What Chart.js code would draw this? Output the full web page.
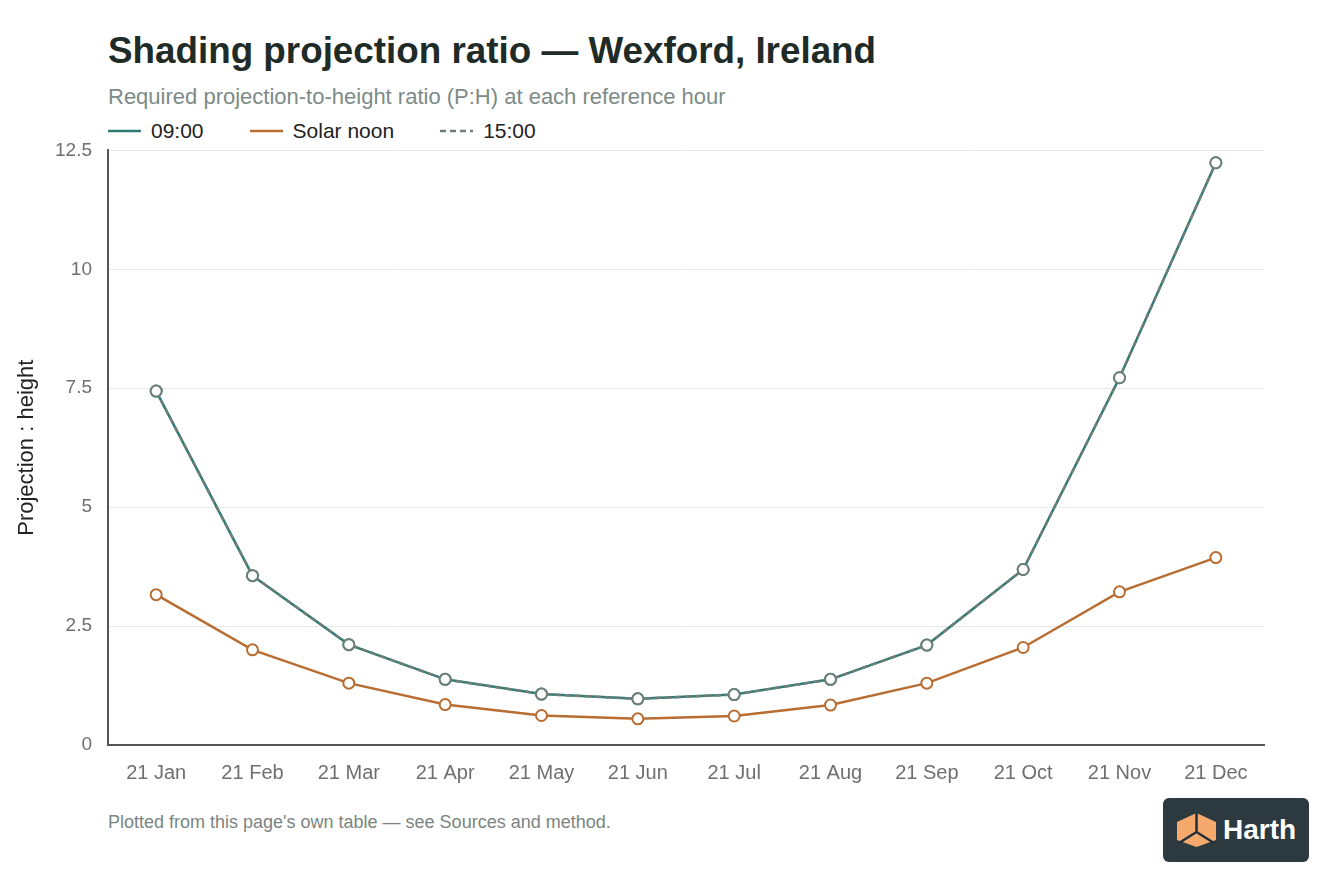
<!DOCTYPE html>
<html>
<head>
<meta charset="utf-8">
<script src="https://cdn.jsdelivr.net/npm/chart.js@4.4.1/dist/chart.umd.min.js"></script>
<style>
  html, body { margin: 0; padding: 0; background: #fff; }
  body { width: 1344px; height: 896px; position: relative; overflow: hidden; font-family: "Liberation Sans", Arial, sans-serif; }
  #title { position: absolute; left: 108px; top: 32px; font-size: 36.8px; line-height: 37px; font-weight: bold; color: #1f2b27; white-space: nowrap; }
  #subtitle { position: absolute; left: 108px; top: 86px; font-size: 22px; line-height: 22px; color: #7d8b86; white-space: nowrap; }
  #legend { position: absolute; left: 108px; top: 119px; height: 24px; display: flex; align-items: center; font-size: 21px; color: #222; }
  .item { display: flex; align-items: center; margin-right: 46px; }
  .item svg { margin-right: 10px; }
  #wrap { position: absolute; left: 0; top: 123px; width: 1344px; height: 682px; }
  #footer { position: absolute; left: 108px; top: 813px; font-size: 18px; line-height: 18px; color: #7a8580; white-space: nowrap; }
  #logo { position: absolute; left: 1163px; top: 798px; width: 146px; height: 64px; background: #2c3a40; border-radius: 6px; display: flex; align-items: center; }
  #logo svg { margin-left: 13px; }
  #logo span { margin-left: 6px; color: #fff; font-weight: bold; font-size: 28px; font-family: "Liberation Sans", Arial, sans-serif; }
</style>
</head>
<body>
<div id="title">Shading projection ratio — Wexford, Ireland</div>
<div id="subtitle">Required projection-to-height ratio (P:H) at each reference hour</div>
<div id="legend"></div>
<div id="wrap"><canvas id="myChart"></canvas></div>
<div id="footer">Plotted from this page's own table — see Sources and method.</div>
<div id="logo">
  <svg width="41" height="36" viewBox="0 0 41 36">
    <polygon points="20.5,1 40,10 40,28 20.5,35 1,28 1,10" fill="#f5a96d"/>
    <path d="M20.5 1 L20.5 20 M20.5 20 L3 31 M20.5 20 L38 31" stroke="#22303a" stroke-width="2.5" fill="none"/>
  </svg>
  <span>Harth</span>
</div>
<script>
const months = ['21 Jan', '21 Feb', '21 Mar', '21 Apr', '21 May', '21 Jun', '21 Jul', '21 Aug', '21 Sep', '21 Oct', '21 Nov', '21 Dec'];
const ratio0900 = [7.44, 3.56, 2.11, 1.38, 1.07, 0.97, 1.06, 1.38, 2.10, 3.69, 7.72, 12.24];
const ratioNoon = [3.16, 2.00, 1.30, 0.85, 0.62, 0.55, 0.61, 0.84, 1.30, 2.05, 3.22, 3.94];
const ratio1500 = [7.44, 3.56, 2.11, 1.38, 1.07, 0.97, 1.06, 1.38, 2.10, 3.69, 7.72, 12.24];
const yTicks = [0, 2.5, 5, 7.5, 10, 12.5];

const tickFont = { family: '"Liberation Sans", Arial, sans-serif', size: 20 };

// order: 15:00 is drawn on top, like the original
const datasets = [
    { label: '09:00', data: ratio0900, color: '#2f7b72', dash: [], order: 2 },
    { label: 'Solar noon', data: ratioNoon, color: '#b86d33', dash: [], order: 1 },
    { label: '15:00', data: ratio1500, color: '#6e7f7a', dash: [6, 4], order: 0 }
].map(d => ({
    label: d.label,
    data: d.data,
    order: d.order,
    borderColor: d.color,
    borderDash: d.dash,
    borderWidth: 2.5,
    pointRadius: 5.5,
    pointHoverRadius: 5.5,
    pointBorderWidth: 2,
    pointBorderColor: d.color,
    pointBackgroundColor: '#fff',
    tension: 0,
    fill: false
}));

// html legend built from the datasets
const legendEl = document.getElementById('legend');
datasets.forEach(ds => {
    const item = document.createElement('div');
    item.className = 'item';
    item.innerHTML = '<svg width="33" height="4"><line x1="0" y1="2" x2="33" y2="2" stroke="' + ds.borderColor +
        '" stroke-width="2.5" stroke-dasharray="' + (ds.borderDash.length ? ds.borderDash.join(',') : 'none') + '"/></svg>' +
        '<span>' + ds.label + '</span>';
    legendEl.appendChild(item);
});

const myChart = new Chart('myChart', {
    type: 'line',
    data: { labels: months, datasets: datasets },
    options: {
        responsive: true,
        maintainAspectRatio: false,
        animation: false,
        layout: { padding: { top: 12, right: 80, bottom: 4, left: 0 } },
        plugins: {
            legend: { display: false },
            tooltip: { enabled: false }
        },
        scales: {
            x: {
                offset: true,
                grid: { display: false, drawTicks: false },
                border: { display: true, color: '#555', width: 2 },
                ticks: { color: '#6f6f6f', font: tickFont, padding: 16, maxRotation: 0, autoSkip: false }
            },
            y: {
                min: 0,
                max: 12.5,
                afterBuildTicks: (scale) => { scale.ticks = yTicks.map(v => ({ value: v })); },
                afterFit: (scale) => { scale.width = 108; },
                grid: { color: '#e6e9e8', lineWidth: 1, drawTicks: false },
                border: { display: true, color: '#555', width: 2 },
                ticks: { color: '#6f6f6f', font: { family: tickFont.family, size: 19 }, padding: 16, callback: (v) => String(v) },
                title: {
                    display: true,
                    text: 'Projection : height',
                    color: '#222',
                    font: { family: '"Liberation Sans", Arial, sans-serif', size: 22 },
                    padding: { top: 14, bottom: 0 }
                }
            }
        }
    }
});
</script>
</body>
</html>
